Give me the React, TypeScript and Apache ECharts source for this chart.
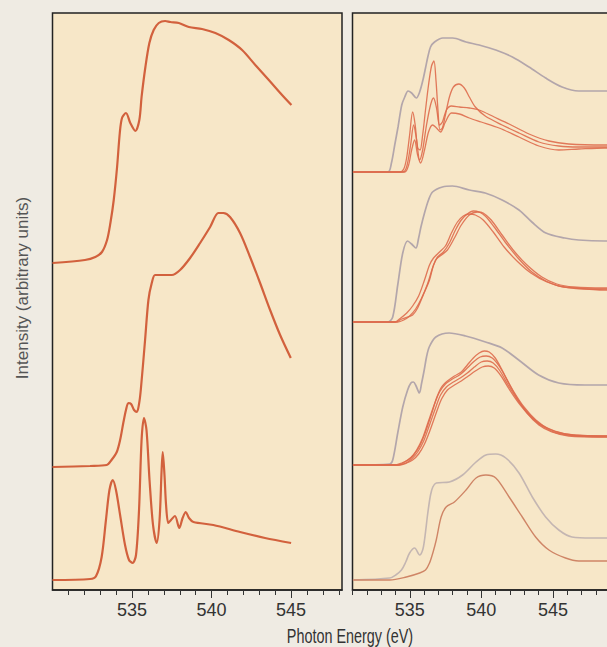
import React, { useEffect, useRef } from "react";
import * as echarts from "echarts";

type Pt = [number, number];

// ---- axis ticks (photon energy, eV) ----
const majorTicks = [535, 540, 545];
const leftMinorTicks = [531, 532, 533, 534, 535, 536, 537, 538, 539, 540, 541, 542, 543, 544, 545, 546, 547, 548];
const rightMinorTicks = [531, 532, 533, 534, 535, 536, 537, 538, 539, 540, 541, 542, 543, 544, 545, 546, 547, 548, 549];

// ---- left panel spectra (eV, intensity a.u., stacked) ----
const leftTop: Pt[] = [
  [530.0, 327], [532.04, 330], [532.69, 333], [533.11, 338], [533.43, 350], [533.64, 367], [533.85, 390],
  [534.06, 423], [534.23, 457], [534.37, 472], [534.62, 477], [534.89, 467], [535.21, 459], [535.46, 470],
  [535.6, 493], [535.84, 523], [536.09, 547], [536.36, 560], [536.68, 567], [537.08, 569], [537.41, 568],
  [537.94, 567], [538.57, 563], [539.4, 561], [540.24, 557], [541.08, 550], [541.92, 540], [542.75, 525],
  [543.6, 510], [544.43, 495], [545.02, 485],
];
const leftMiddle: Pt[] = [
  [530.0, 123], [532.36, 124], [533.41, 125], [533.71, 130], [534.04, 138], [534.25, 150], [534.45, 167],
  [534.62, 180], [534.77, 187], [534.94, 186], [535.13, 180], [535.3, 178], [535.44, 186], [535.55, 200],
  [535.82, 250], [536.03, 290], [536.24, 307], [536.45, 315], [536.97, 315], [537.5, 315], [538.02, 320],
  [538.65, 332], [539.28, 347], [539.91, 363], [540.43, 377], [540.74, 377], [541.16, 373], [541.79, 357],
  [542.42, 333], [543.05, 307], [543.68, 280], [544.31, 255], [544.98, 232],
];
const leftBottom: Pt[] = [
  [530.0, 10], [532.36, 11], [532.74, 14], [533.09, 33], [533.36, 70], [533.58, 100], [533.79, 110],
  [533.99, 100], [534.25, 75], [534.56, 45], [534.81, 30], [535.04, 27], [535.25, 35], [535.44, 80],
  [535.6, 150], [535.75, 172], [535.91, 160], [536.1, 110], [536.32, 65], [536.55, 47], [536.73, 70],
  [536.86, 120], [536.93, 138], [537.04, 115], [537.14, 85], [537.28, 67], [537.45, 70], [537.7, 74],
  [537.97, 62], [538.18, 72], [538.38, 78], [538.58, 72], [538.86, 68], [540.11, 65], [541.79, 58],
  [543.36, 52], [545.0, 47],
];

// ---- right panel: reference (grey) and series (red) spectra ----
const grey1: Pt[] = [
  [531.03, 418], [533.47, 418], [533.72, 427], [533.95, 445], [534.18, 463], [534.44, 485], [534.65, 493],
  [534.88, 499], [535.13, 497], [535.46, 492], [535.69, 498], [535.92, 510], [536.1, 522], [536.26, 533],
  [536.45, 543], [536.73, 548], [537.31, 552], [538.0, 552], [538.93, 548], [539.85, 545], [541.01, 540],
  [542.17, 533], [543.33, 523], [544.49, 512], [545.64, 503], [546.8, 499], [548.42, 499], [549.58, 499],
];
const red1a: Pt[] = [
  [531.03, 418], [534.3, 418], [534.58, 421], [534.78, 432], [534.99, 455], [535.2, 478], [535.38, 465],
  [535.55, 442], [535.72, 440], [535.9, 455], [536.1, 480], [536.31, 505], [536.52, 524], [536.69, 529],
  [536.83, 510], [536.97, 480], [537.11, 460], [537.28, 462], [537.49, 475], [537.77, 493], [538.05, 503],
  [538.43, 506], [538.81, 502], [539.16, 493], [539.58, 483], [540.27, 474], [541.45, 465], [542.63, 457],
  [544.02, 448], [545.41, 444], [546.8, 443], [548.6, 443], [549.58, 443],
];
const red1b: Pt[] = [
  [531.03, 418], [534.51, 418], [534.78, 423], [535.06, 445], [535.27, 465], [535.48, 450], [535.69, 430],
  [535.9, 440], [536.17, 465], [536.45, 485], [536.66, 492], [536.87, 482], [537.08, 465], [537.28, 468],
  [537.56, 480], [537.91, 484], [538.47, 483], [539.16, 482], [539.85, 480], [540.9, 473], [541.94, 466],
  [543.33, 456], [544.72, 449], [546.1, 446], [548.6, 445], [549.58, 445],
];
const red1c: Pt[] = [
  [531.03, 418], [534.65, 418], [534.92, 425], [535.13, 440], [535.34, 450], [535.55, 435], [535.76, 427],
  [536.03, 440], [536.31, 458], [536.59, 465], [536.87, 462], [537.15, 458], [537.49, 468], [537.91, 477],
  [538.47, 476], [539.16, 472], [539.99, 468], [541.24, 462], [542.63, 453], [544.02, 444], [545.41, 440],
  [546.8, 441], [548.6, 442], [549.58, 442],
];
const grey2: Pt[] = [
  [531.03, 268], [533.47, 268], [533.81, 273], [534.16, 305], [534.51, 337], [534.85, 349], [535.13, 346],
  [535.43, 342], [535.62, 352], [535.78, 363], [536.03, 377], [536.31, 390], [536.59, 398], [537.28, 403],
  [537.98, 404], [539.16, 400], [540.27, 397], [541.45, 390], [542.63, 380], [543.53, 368], [544.51, 357],
  [545.83, 352], [546.8, 350], [548.6, 349], [549.58, 349],
];
const red2a: Pt[] = [
  [531.03, 268], [534.02, 268], [534.44, 271], [534.85, 273], [535.2, 275], [535.55, 282], [535.97, 296],
  [536.38, 310], [536.66, 325], [536.94, 333], [537.35, 338], [537.77, 347], [538.19, 360], [538.6, 370],
  [539.02, 376], [539.44, 379], [539.85, 378], [540.27, 374], [540.9, 363], [541.66, 348], [542.56, 332],
  [543.53, 318], [544.51, 309], [545.41, 304], [546.45, 302], [548.6, 300], [549.58, 300],
];
const red2b: Pt[] = [
  [531.03, 268], [534.16, 268], [534.58, 270], [534.99, 274], [535.41, 281], [535.83, 292], [536.24, 306],
  [536.59, 322], [536.87, 331], [537.22, 335], [537.63, 340], [538.12, 352], [538.6, 365], [539.16, 375],
  [539.72, 378], [540.13, 377], [540.69, 370], [541.45, 355], [542.28, 339], [543.19, 325], [544.23, 313],
  [545.27, 306], [546.45, 303], [548.6, 302], [549.58, 302],
];
const red2c: Pt[] = [
  [531.03, 268], [533.95, 268], [534.37, 272], [534.79, 277], [535.2, 284], [535.62, 294], [536.03, 310],
  [536.38, 325], [536.66, 332], [537.08, 338], [537.49, 344], [537.91, 357], [538.33, 368], [538.74, 374],
  [539.16, 376], [539.58, 375], [540.13, 370], [540.83, 358], [541.59, 343], [542.49, 329], [543.46, 317],
  [544.58, 308], [545.76, 303], [547.49, 301], [549.58, 301],
];
const grey3: Pt[] = [
  [531.03, 125], [533.6, 126], [533.81, 130], [534.16, 157], [534.51, 183], [534.85, 200], [535.08, 207],
  [535.25, 208], [535.44, 204], [535.67, 197], [535.83, 207], [536.01, 220], [536.17, 233], [536.36, 243],
  [536.82, 253], [537.75, 257], [538.9, 254], [540.29, 248], [541.45, 242], [542.61, 230], [544.0, 215],
  [545.41, 207], [547.24, 205], [548.6, 205], [549.58, 205],
];
const red3a: Pt[] = [
  [531.03, 125], [534.02, 125], [534.44, 127], [534.85, 130], [535.27, 135], [535.69, 144], [536.1, 158],
  [536.52, 176], [536.87, 192], [537.22, 203], [537.63, 209], [538.12, 214], [538.6, 218], [539.02, 225],
  [539.44, 232], [539.85, 237], [540.2, 239], [540.55, 238], [540.97, 232], [541.45, 220], [541.94, 206],
  [542.49, 192], [543.19, 177], [544.02, 165], [544.92, 158], [546.1, 154], [548.6, 153], [549.58, 153],
];
const red3b: Pt[] = [
  [531.03, 125], [534.16, 125], [534.65, 128], [535.06, 132], [535.48, 140], [535.9, 152], [536.31, 169],
  [536.73, 186], [537.08, 198], [537.49, 206], [537.98, 211], [538.47, 215], [538.95, 221], [539.44, 228],
  [539.92, 233], [540.34, 234], [540.76, 232], [541.24, 224], [541.73, 212], [542.28, 198], [542.98, 183],
  [543.81, 170], [544.72, 161], [545.83, 156], [547.49, 154], [549.58, 154],
];
const red3c: Pt[] = [
  [531.03, 125], [534.23, 125], [534.72, 127], [535.13, 131], [535.55, 138], [535.97, 149], [536.38, 165],
  [536.8, 182], [537.15, 195], [537.56, 203], [538.05, 208], [538.53, 212], [539.02, 217], [539.51, 223],
  [539.99, 228], [540.41, 229], [540.83, 227], [541.31, 219], [541.87, 205], [542.49, 191], [543.26, 177],
  [544.09, 166], [545.13, 159], [546.45, 155], [549.58, 154],
];
const red3d: Pt[] = [
  [531.03, 125], [534.3, 125], [534.79, 127], [535.2, 130], [535.62, 136], [536.03, 146], [536.45, 161],
  [536.87, 178], [537.22, 191], [537.63, 200], [538.12, 205], [538.6, 209], [539.09, 214], [539.58, 219],
  [540.06, 223], [540.48, 224], [540.9, 222], [541.38, 214], [541.94, 201], [542.56, 188], [543.33, 175],
  [544.23, 164], [545.27, 157], [546.8, 154], [549.58, 153],
];
const grey4: Pt[] = [
  [531.03, 10], [533.6, 12], [534.02, 15], [534.42, 20], [534.72, 28], [534.99, 37], [535.34, 42],
  [535.69, 35], [535.9, 40], [536.03, 50], [536.26, 77], [536.45, 95], [536.61, 103], [536.85, 107],
  [537.77, 108], [538.69, 115], [539.63, 128], [540.32, 135], [541.01, 136], [541.71, 132], [542.63, 117],
  [543.56, 93], [544.49, 73], [545.41, 60], [546.33, 53], [547.72, 52], [548.65, 52], [549.58, 52],
];
const red4: Pt[] = [
  [531.03, 10], [533.6, 10], [534.76, 13], [535.69, 17], [536.1, 20], [536.38, 27], [536.63, 38],
  [536.85, 50], [537.19, 73], [537.54, 83], [538.12, 88], [538.93, 100], [539.63, 112], [540.32, 115],
  [541.01, 112], [541.94, 93], [542.86, 73], [543.79, 53], [544.72, 40], [545.88, 32], [546.8, 29],
  [548.65, 29], [549.58, 29],
];

const LABEL_FONT = "'Liberation Sans', Arial, sans-serif";
const FRAME = "#222222";
const PANEL = "#f7e7c8";

function mainAxis(gridIndex: number, min: number, max: number, minor: number[]) {
  return {
    type: "value",
    gridIndex,
    min,
    max,
    position: "bottom",
    axisLine: { show: true, lineStyle: { color: FRAME, width: 1.5 } },
    axisTick: { show: true, customValues: minor, length: 5, inside: false, lineStyle: { color: "#333", width: 1 } },
    axisLabel: {
      show: true,
      customValues: majorTicks,
      margin: 11,
      fontSize: 18,
      fontFamily: LABEL_FONT,
      color: "#333",
    },
    splitLine: { show: false },
  };
}
function majorAxis(gridIndex: number, min: number, max: number) {
  return {
    type: "value",
    gridIndex,
    min,
    max,
    position: "bottom",
    axisLine: { show: false },
    axisTick: { show: true, customValues: majorTicks, length: 8, lineStyle: { color: "#333", width: 1 } },
    axisLabel: { show: false },
    splitLine: { show: false },
  };
}

function line(data: Pt[], xi: number, yi: number, color: string, width: number, opacity = 1) {
  return {
    type: "line",
    xAxisIndex: xi,
    yAxisIndex: yi,
    data,
    showSymbol: false,
    smooth: 0.3,
    silent: true,
    lineStyle: { color, width, opacity },
    z: 3,
  };
}

export default function App() {
  const ref = useRef<HTMLDivElement>(null);
  useEffect(() => {
    if (!ref.current) return;
    const chart = echarts.init(ref.current, undefined, { renderer: "svg" });
    const leftRed = "#d2613d";
    const red = "#de6c4c";
    const grey = "#b3a6ab";
    chart.setOption({
      animation: false,
      backgroundColor: "#efebe3",
      grid: [
        { left: 52.5, top: 13, width: 289.5, height: 577, show: true, backgroundColor: PANEL, borderColor: FRAME, borderWidth: 1.5, outerBoundsMode: "none" },
        { left: 352.5, top: 13, width: 272, height: 577, show: true, backgroundColor: PANEL, borderColor: FRAME, borderWidth: 1.5, outerBoundsMode: "none" },
      ],
      xAxis: [
        mainAxis(0, 530, 548.2, leftMinorTicks),
        majorAxis(0, 530, 548.2),
        mainAxis(1, 531, 550, rightMinorTicks),
        majorAxis(1, 531, 550),
      ],
      yAxis: [
        { type: "value", gridIndex: 0, min: 0, max: 577, show: false },
        { type: "value", gridIndex: 1, min: 0, max: 577, show: false },
      ],
      graphic: [
        {
          type: "text",
          x: 350,
          y: 636,
          scaleX: 0.72,
          style: { text: "Photon Energy (eV)", fontSize: 20, fontFamily: LABEL_FONT, fill: "#333", align: "center", verticalAlign: "middle" },
        },
        {
          type: "text",
          x: 22,
          y: 288,
          rotation: Math.PI / 2,
          style: { text: "Intensity (arbitrary units)", fontSize: 17, fontFamily: LABEL_FONT, fill: "#555", align: "center", verticalAlign: "middle" },
        },
      ],
      series: [
        line(leftTop, 0, 0, leftRed, 2.2),
        line(leftMiddle, 0, 0, leftRed, 2.2),
        line(leftBottom, 0, 0, leftRed, 2.2),
        line(grey1, 2, 1, grey, 1.7),
        line(red1a, 2, 1, red, 1.3, 0.9),
        line(red1b, 2, 1, red, 1.3, 0.9),
        line(red1c, 2, 1, red, 1.3, 0.9),
        line(grey2, 2, 1, grey, 1.7),
        line(red2a, 2, 1, red, 1.3, 0.9),
        line(red2b, 2, 1, red, 1.3, 0.9),
        line(red2c, 2, 1, red, 1.3, 0.9),
        line(grey3, 2, 1, grey, 1.7),
        line(red3a, 2, 1, red, 1.3, 0.9),
        line(red3b, 2, 1, red, 1.3, 0.9),
        line(red3c, 2, 1, red, 1.3, 0.9),
        line(red3d, 2, 1, red, 1.3, 0.9),
        line(grey4, 2, 1, "#c4b6b2", 1.6),
        line(red4, 2, 1, "#cf8566", 1.4),
      ],
    });
    return () => chart.dispose();
  }, []);
  return (
    <div
      ref={ref}
      style={{ position: "absolute", left: 0, top: 0, width: 607, height: 647, background: "#efebe3", overflow: "hidden" }}
    />
  );
}
